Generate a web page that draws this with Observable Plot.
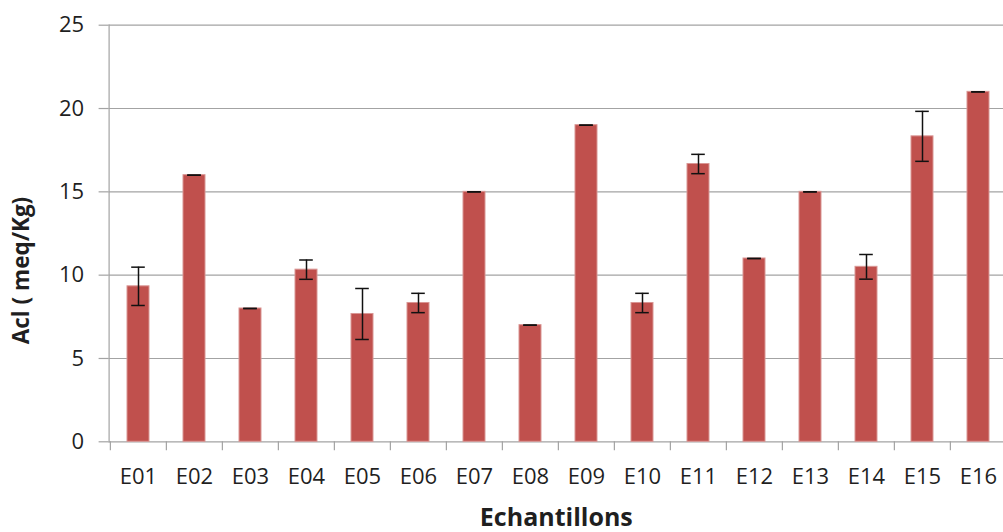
<!DOCTYPE html>
<html><head><meta charset="utf-8">
<script src="https://cdn.jsdelivr.net/npm/d3@7"></script>
<script src="https://cdn.jsdelivr.net/npm/@observablehq/plot@0.6"></script>
<style>html,body{margin:0;padding:0;background:#fff;overflow:hidden}</style>
</head><body><div id="chart"></div>
<script>
const samples = ["E01","E02","E03","E04","E05","E06","E07","E08","E09","E10","E11","E12","E13","E14","E15","E16"];
const acl = [9.33,16,8,10.33,7.67,8.33,15,7,19,8.33,16.67,11,15,10.5,18.33,21];
const errs = [1.15,0,0,0.58,1.53,0.58,0,0,0,0.58,0.58,0,0,0.74,1.5,0];
const yTicks = [0,5,10,15,20,25];
const yLabel = "Acl ( meq/Kg)";
const xLabel = "Echantillons";

(function(){
const rows = samples.map((s,i)=>({s, v: acl[i], e: errs[i]}));
const W=1003, H=532, mLeft=108.6, xRight=1008.5, mTop=24.7, mBottom=90.7;
const step=(xRight-mLeft)/samples.length;
const grid="#A3A3A3", ink="#1f1f1f";
const capInset = 4.2;

const chart = Plot.plot({
  width: W, height: H, marginLeft: mLeft, marginRight: 0, marginTop: mTop, marginBottom: mBottom,
  style: {fontFamily: "'Open Sans', sans-serif", background: "#fff", overflow: "visible"},
  x: {type:"band", domain: samples, range:[mLeft, xRight], paddingInner:0.6, paddingOuter:0.3},
  y: {domain:[0,25]},
  marks: [
    Plot.gridY(yTicks, {stroke: grid, strokeOpacity:1, strokeWidth:1.2}),
    Plot.axisY(yTicks, {tickSize:10, tickPadding:15, stroke: grid, strokeWidth:1.2, fontSize:22, fill: ink, label:null}),
    Plot.frame({anchor:"left", stroke:grid, strokeWidth:1.2}),
    Plot.axisX(samples, {tickSize:9, text:null, dx:-step/2, stroke:grid, strokeWidth:1.2, label:null}),
    Plot.axisX(samples, {tickSize:0, tickPadding:27, fontSize:22, fill:ink, label:null}),
    Plot.barY(rows, {x:"s", y:"v", fill:"#C0504D", stroke:"#D99694", strokeWidth:1}),
    Plot.ruleX(rows, {x:"s", y1: d=>d.v-d.e, y2: d=>d.v+d.e, stroke:"#111", strokeWidth:1.5}),
    Plot.tickY(rows, {x:"s", y: d=>d.v+d.e, stroke:"#111", strokeWidth:1.5, insetLeft:capInset, insetRight:capInset}),
    Plot.tickY(rows, {x:"s", y: d=>d.v-d.e, stroke:"#111", strokeWidth:1.5, insetLeft:capInset, insetRight:capInset}),
    Plot.text([xLabel], {frameAnchor:"bottom", lineAnchor:"middle", dy:76.5, fontSize:25, fontWeight:"bold", fill:ink}),
    Plot.text([yLabel], {frameAnchor:"left", textAnchor:"middle", dx:-87.6, dy:37, rotate:-90, fontSize:22.5, fontWeight:"bold", fill:ink})
  ]
});
document.getElementById("chart").append(chart);
})();
</script>
</body></html>
